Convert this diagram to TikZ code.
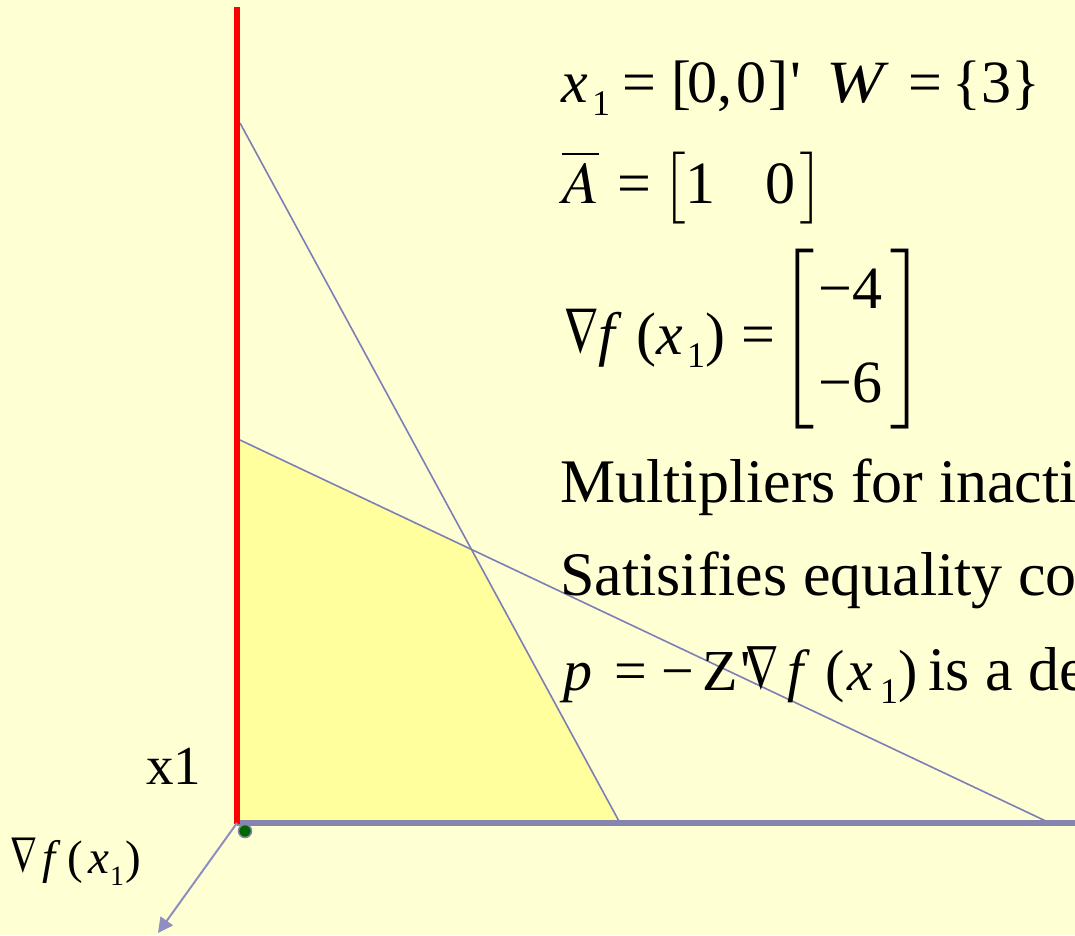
\documentclass[tikz,border=0pt]{standalone}
\usepackage{mathptmx}
\usepackage[no-math]{fontspec}
\setmainfont{Liberation Serif}
\usetikzlibrary{arrows.meta}
\newcommand{\sq}{\textquotesingle}
\newcommand{\nab}{\scalebox{0.8}[1.1]{$\nabla$}}
\begin{document}
\begin{tikzpicture}[x=1pt,y=-1pt]
\definecolor{bgc}{HTML}{FFFFD4}
\definecolor{regionc}{HTML}{FFFF9E}
\definecolor{linec}{HTML}{7E7EB6}
\definecolor{axisc}{HTML}{8585B0}
\definecolor{arrowc}{HTML}{8E8EC2}
\definecolor{dotc}{HTML}{006600}
\definecolor{redc}{HTML}{FF0000}
\tikzset{
  txt/.style={font=\fontsize{62}{74}\selectfont, anchor=base west, inner sep=0pt},
  eq/.style={font=\fontsize{60}{70}\selectfont, anchor=base west, inner sep=0pt},
  eqp/.style={font=\fontsize{58}{68}\selectfont, anchor=base west, inner sep=0pt},
  sub/.style={font=\fontsize{36}{40}\selectfont, anchor=base west, inner sep=0pt},
  mid/.style={font=\fontsize{55}{64}\selectfont, anchor=base west, inner sep=0pt},
  small/.style={font=\fontsize{47}{56}\selectfont, anchor=base west, inner sep=0pt},
  tiny/.style={font=\fontsize{28}{32}\selectfont, anchor=base west, inner sep=0pt},
  constr/.style={draw=linec, line width=1.6pt},
}
\useasboundingbox (0,0) rectangle (1075,935);
\fill[bgc] (0,0) rectangle (1075,935);
\begin{scope}
\clip (0,0) rectangle (1075,935);
% coordinates
\coordinate (O) at (237,823);
\coordinate (A) at (240,440);
\coordinate (B) at (472,549);
\coordinate (C) at (620,823);
\coordinate (D) at (240,823);
\coordinate (L1s) at (240,123);
\coordinate (L2e) at (1050,823);
\coordinate (Top) at (237,7);
\coordinate (Xend) at (1080,823);
\coordinate (G) at (158,933);
% feasible region
\fill[regionc] (D) -- (A) -- (B) -- (C) -- cycle;
% constraint lines
\draw[constr] (L1s) -- (C);
\draw[constr] (A) -- (L2e);
% axes
\draw[axisc, line width=5.5pt] (O) -- (Xend);
\draw[redc, line width=6pt] (Top) -- ([yshift=-0.5pt]O);
% gradient arrow
\draw[arrowc, line width=2pt, -{Triangle[width=15pt,length=15pt]}] (O) -- (G);
\filldraw[fill=dotc, draw=axisc, line width=1.5pt] (245,831) circle (6.5);
% axis label
\node[mid] (x1lab) at (146,784) {x1};
% gradient label
\node[small] (g1) at (10,873) {\nab};
\node[small] (g2) at (42,873) {\textit{f}};
\node[small] (g3) at (67,873) {(};
\node[small] (g4) at (88,873) {\textit{x}};
\node[tiny] (g5) at (110,885) {1};
\node[small] (g6) at (125,873) {)};
% line 1
\node[eq] (e1a) at (561,102) {\textit{x}};
\node[sub] (e1b) at (592,115) {1};
\node[eq] (e1c) at (622,102) {=};
\node[eq] (e1d) at (671,102) {[};
\node[eq] (e1e) at (687,102) {0,};
\node[eq] (e1f) at (736,102) {0};
\node[eq] (e1g) at (768,102) {]};
\node[eq] (e1h) at (790,102) {\sq};
\node[eq, xscale=1.15, transform shape] (e1i) at (826,102) {\textit{W}};
\node[eq] (e1j) at (908,102) {=};
\node[eq] (e1k) at (952,102) {\{3\}};
% line 2
\node[eq] (e2a) at (562,203) {$\overline{A}$};
\node[eq] (e2b) at (617,203) {=};
\node[eq] (e2c) at (661,203) {$\bigl[$};
\node[eq] (e2d) at (685,203) {1};
\node[eq] (e2e) at (765,203) {0};
\node[eq] (e2f) at (799,203) {$\bigr]$};
% line 3: gradient
\node[eq] (e3a) at (564,354) {\nab};
\node[eq] (e3b) at (598,354) {\textit{f}};
\node[eq] (e3c) at (636,354) {(};
\node[eq] (e3d) at (656,354) {\textit{x}};
\node[sub] (e3e) at (687,367) {1};
\node[eq] (e3f) at (705,354) {)};
\node[eq] (e3g) at (741,354) {=};
\node[eq] (e3h) at (779,354) {$\left[\vrule height 92pt depth 62pt width 0pt\right.$};
\node[eq] (e3i) at (818,308) {−4};
\node[eq] (e3j) at (818,402) {−6};
\node[eq] (e3k) at (889,354) {$\left.\vrule height 92pt depth 62pt width 0pt\right]$};
% text lines
\node[txt] (t1) at (560,502) {Multipliers for inacti};
\node[txt] (t2) at (560,595) {Satisifies equality co};
\node[eqp] (t3a) at (563,690) {\textit{p}};
\node[eqp] (t3b) at (614,690) {=};
\node[eqp] (t3c) at (661,690) {−};
\node[eqp] (t3d) at (702,690) {Z};
\node[eqp] (t3e) at (740,690) {\sq};
\node[eqp] (t3f) at (745,690) {\nab};
\node[eqp] (t3g) at (787,690) {\textit{f}};
\node[eqp] (t3h) at (825,690) {(};
\node[eqp] (t3i) at (847,690) {\textit{x}};
\node[sub] (t3j) at (880,703) {1};
\node[eqp] (t3k) at (898,690) {)};
\node[txt] (t3l) at (928,690) {is a de};
\end{scope}
\end{tikzpicture}
\end{document}
